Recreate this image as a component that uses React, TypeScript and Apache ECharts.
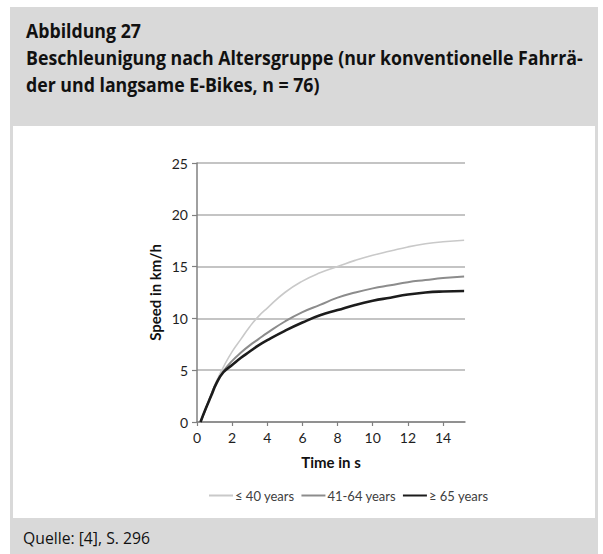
import React, { useEffect, useRef } from "react";
import * as echarts from "echarts";

const titleLines = [
  "Abbildung 27",
  "Beschleunigung nach Altersgruppe (nur konventionelle Fahrrä-",
  "der und langsame E-Bikes, n = 76)",
];
const sourceText = "Quelle: [4], S. 296";
const xAxisName = "Time in s";
const yAxisName = "Speed in km/h";
const xTickValues = [0, 2, 4, 6, 8, 10, 12, 14];
const seriesNames = ["≤ 40 years", "41-64 years", "≥ 65 years"];

const timeS = [0.2, 0.5, 0.8, 1.1, 1.5, 2, 2.5, 3, 3.5, 4, 5, 6, 7, 8, 9, 10, 11, 12, 13, 14, 15.2];
const speedUpTo40 = [0, 1.3, 2.6, 3.9, 5.3, 6.8, 8.0, 9.2, 10.2, 11.0, 12.5, 13.6, 14.4, 15.0, 15.6, 16.1, 16.5, 16.9, 17.2, 17.4, 17.55];
const speed41to64 = [0, 1.3, 2.6, 3.8, 4.9, 5.9, 6.7, 7.4, 8.0, 8.6, 9.7, 10.6, 11.3, 12.0, 12.5, 12.9, 13.2, 13.5, 13.7, 13.9, 14.05];
const speed65plus = [0, 1.3, 2.5, 3.7, 4.8, 5.5, 6.2, 6.8, 7.4, 7.9, 8.8, 9.6, 10.3, 10.8, 11.3, 11.7, 12.0, 12.3, 12.5, 12.6, 12.65];

function measure(text: string, font: string): number {
  try {
    const c = document.createElement("canvas");
    const ctx = c.getContext("2d");
    if (!ctx) return 0;
    ctx.font = font;
    return ctx.measureText(text).width;
  } catch (e) {
    return 0;
  }
}

export default function App() {
  const ref = useRef<HTMLDivElement>(null);
  useEffect(() => {
    if (!ref.current) return;
    const chart = echarts.init(ref.current, undefined, { renderer: "svg" });

    const titleFontFamily = "'Open Sans', 'Noto Sans', sans-serif";
    const titleSize = 19.5;
    const titleFont = `bold ${titleSize}px ${titleFontFamily}`;
    const w2 = measure(titleLines[1], titleFont);
    const titleScale = w2 > 0 ? 557 / w2 : 1;

    const srcSize = 16.5;
    const srcFont = `${srcSize}px ${titleFontFamily}`;
    const ws = measure(sourceText, srcFont);
    const srcScale = ws > 0 ? 127 / ws : 1;

    const baselines = [36, 63, 90];
    const chartFont = "Lato, 'Open Sans', sans-serif";

    const mk = (data: number[]) => timeS.map((t, i) => [t, data[i]]);

    chart.setOption({
      animation: false,
      backgroundColor: "#ffffff",
      graphic: [
        { type: "rect", z: -100, shape: { x: 10, y: 7, width: 588, height: 547 }, style: { fill: "#d9d9d9" } },
        { type: "rect", z: -99, shape: { x: 13, y: 126, width: 582, height: 392 }, style: { fill: "#ffffff" } },
        ...titleLines.map((t, i) => ({
          type: "text",
          x: 26,
          y: baselines[i] - 0.3 * titleSize,
          scaleX: titleScale,
          style: {
            text: t,
            fill: "#111111",
            font: titleFont,
            verticalAlign: "middle",
            align: "left",
          },
        })),
        {
          type: "text",
          x: 23,
          y: 543 - 0.3 * srcSize,
          scaleX: srcScale,
          style: {
            text: sourceText,
            fill: "#111111",
            font: srcFont,
            verticalAlign: "middle",
            align: "left",
          },
        },
      ],
      grid: { left: 197, right: 138, top: 163, bottom: 132, containLabel: false },
      legend: {
        data: seriesNames,
        left: 208,
        top: 489,
        padding: 0,
        itemWidth: 24,
        itemHeight: 10,
        itemGap: 6,
        itemStyle: { opacity: 0, color: "transparent", borderColor: "transparent" },
        textStyle: { fontFamily: chartFont, fontSize: 13, color: "#404040", padding: [0, 0, 0, -3] },
      },
      xAxis: {
        type: "value",
        min: 0,
        max: 15.25,
        name: xAxisName,
        nameLocation: "middle",
        nameGap: 32,
        nameTextStyle: { fontFamily: chartFont, fontSize: 15, fontWeight: "bold", color: "#111111" },
        axisLine: { show: true, lineStyle: { color: "#808080", width: 1.5 } },
        axisTick: { show: true, length: 4, customValues: xTickValues, lineStyle: { color: "#808080", width: 1.2 } },
        axisLabel: { customValues: xTickValues, fontFamily: chartFont, fontSize: 14, color: "#1e1e1e", margin: 8 },
        splitLine: { show: false },
      },
      yAxis: {
        type: "value",
        min: 0,
        max: 25,
        interval: 5,
        name: yAxisName,
        nameLocation: "middle",
        nameGap: 35,
        nameTextStyle: { fontFamily: chartFont, fontSize: 15, fontWeight: "bold", color: "#111111" },
        axisLine: { show: true, lineStyle: { color: "#808080", width: 1.5 } },
        axisTick: { show: true, length: 5, lineStyle: { color: "#808080", width: 1.2 } },
        axisLabel: { fontFamily: chartFont, fontSize: 14, color: "#1e1e1e", margin: 9 },
        splitLine: { show: true, lineStyle: { color: "#c4c4c4", width: 2 } },
      },
      series: [
        { name: seriesNames[0], type: "line", smooth: true, symbol: "none", data: mk(speedUpTo40), lineStyle: { color: "#c9c9c9", width: 1.6 }, itemStyle: { color: "#c9c9c9" } },
        { name: seriesNames[1], type: "line", smooth: true, symbol: "none", data: mk(speed41to64), lineStyle: { color: "#8c8c8c", width: 2 }, itemStyle: { color: "#8c8c8c" } },
        { name: seriesNames[2], type: "line", smooth: true, symbol: "none", data: mk(speed65plus), lineStyle: { color: "#1c1c1c", width: 2.6 }, itemStyle: { color: "#1c1c1c" } },
      ],
    });
    return () => chart.dispose();
  }, []);
  return (
    <div
      ref={ref}
      style={{ position: "absolute", left: 0, top: 0, width: 603, height: 554 }}
    />
  );
}
